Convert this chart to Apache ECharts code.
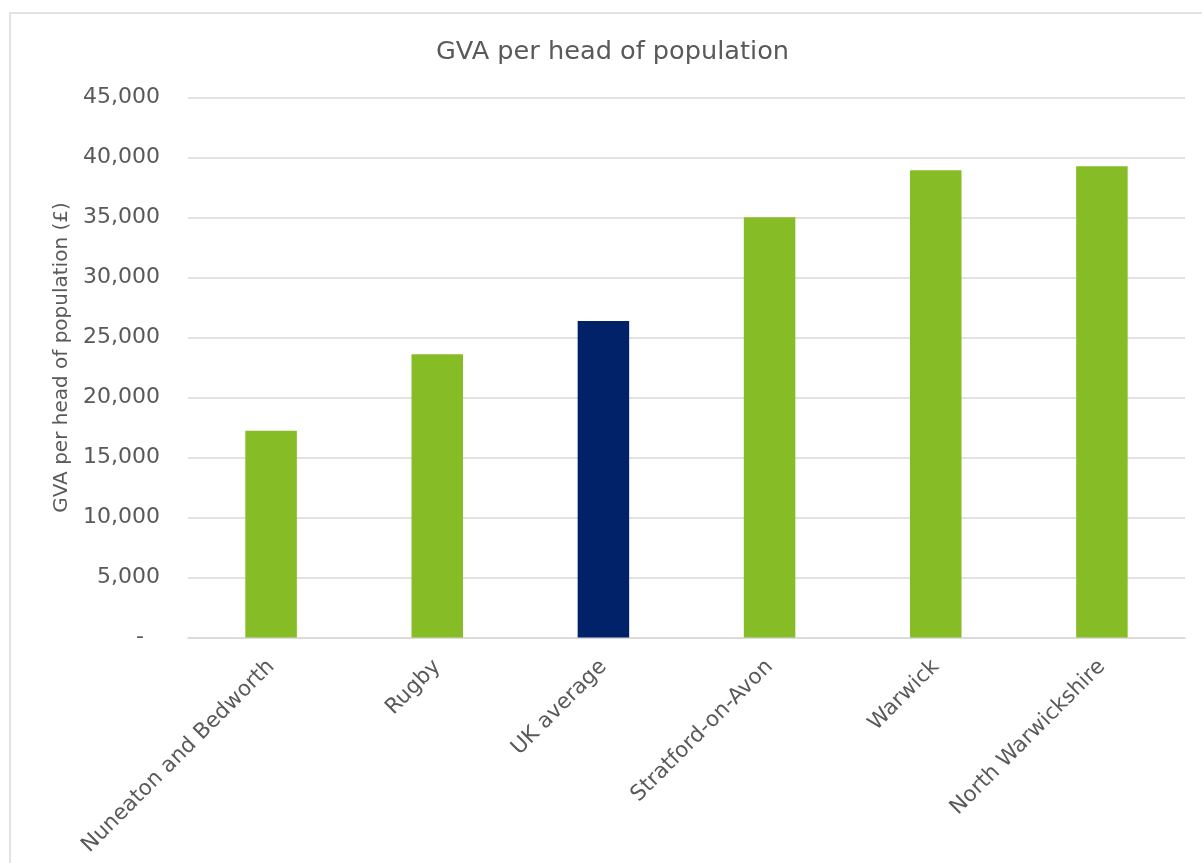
<!DOCTYPE html>
<html>
<head>
<meta charset="utf-8">
<title>GVA per head of population</title>
<script src="https://cdn.jsdelivr.net/npm/echarts@6/dist/echarts.min.js"></script>
<style>
  html, body { margin: 0; padding: 0; background: #ffffff; }
  #chart { width: 1202px; height: 863px; }
</style>
</head>
<body>
<div id="chart"></div>
<script>
// Gross value added per head, by area (£)
const categories = ['Nuneaton and Bedworth', 'Rugby', 'UK average', 'Stratford-on-Avon', 'Warwick', 'North Warwickshire'];
const gvaPerHead = [17230, 23600, 26380, 35020, 38930, 39270];
const benchmarkName = 'UK average';

const yMin = 0;
const yMax = 45000;
const yStep = 5000;

const chartTitle = 'GVA per head of population';
const yAxisTitle = 'GVA per head of population (£)';

const FONT = 'DejaVu Sans';
const TEXT = '#595959';
const GRID = '#d9d9d9';
const GREEN = '#86bc25';
const NAVY = '#012169';

const chart = echarts.init(document.getElementById('chart'), null, { renderer: 'canvas' });

const barData = categories.map((name, i) => ({
  value: gvaPerHead[i],
  itemStyle: { color: name === benchmarkName ? NAVY : GREEN }
}));

chart.setOption({
  animation: false,
  backgroundColor: '#ffffff',
  textStyle: { fontFamily: FONT },
  graphic: [{
    type: 'rect',
    shape: { x: 10, y: 13, width: 1210, height: 880 },
    style: { fill: 'none', stroke: GRID, lineWidth: 1.5 },
    silent: true,
    z: -1
  }],
  title: {
    text: chartTitle,
    left: 431,
    top: 34,
    textStyle: { fontFamily: FONT, fontSize: 25.6, fontWeight: 'normal', color: TEXT }
  },
  grid: { left: 188, right: 17, top: 97.5, bottom: 225.5, containLabel: false },
  xAxis: {
    type: 'category',
    data: categories,
    axisLine: { show: true, lineStyle: { color: GRID, width: 1.5 } },
    axisTick: { show: false },
    axisLabel: {
      interval: 0,
      rotate: 45,
      margin: 26,
      fontFamily: FONT,
      fontSize: 21.5,
      color: TEXT
    }
  },
  yAxis: {
    type: 'value',
    min: yMin,
    max: yMax,
    interval: yStep,
    name: yAxisTitle,
    nameLocation: 'middle',
    nameRotate: 90,
    nameGap: 116,
    nameTextStyle: { fontFamily: FONT, fontSize: 20, color: TEXT, padding: [0, 0, 0, 20] },
    axisLine: { show: false },
    axisTick: { show: false },
    splitLine: { lineStyle: { color: GRID, width: 1.5 } },
    axisLabel: {
      margin: 28,
      fontFamily: FONT,
      fontSize: 22,
      color: TEXT,
      formatter: v => v === 0 ? '{dash|-}' : v.toLocaleString('en-US'),
      rich: {
        dash: { fontFamily: FONT, fontSize: 22, color: TEXT, padding: [0, 16, 0, 0] }
      }
    }
  },
  series: [{
    type: 'bar',
    data: barData,
    barWidth: '31%'
  }]
});
</script>
</body>
</html>
